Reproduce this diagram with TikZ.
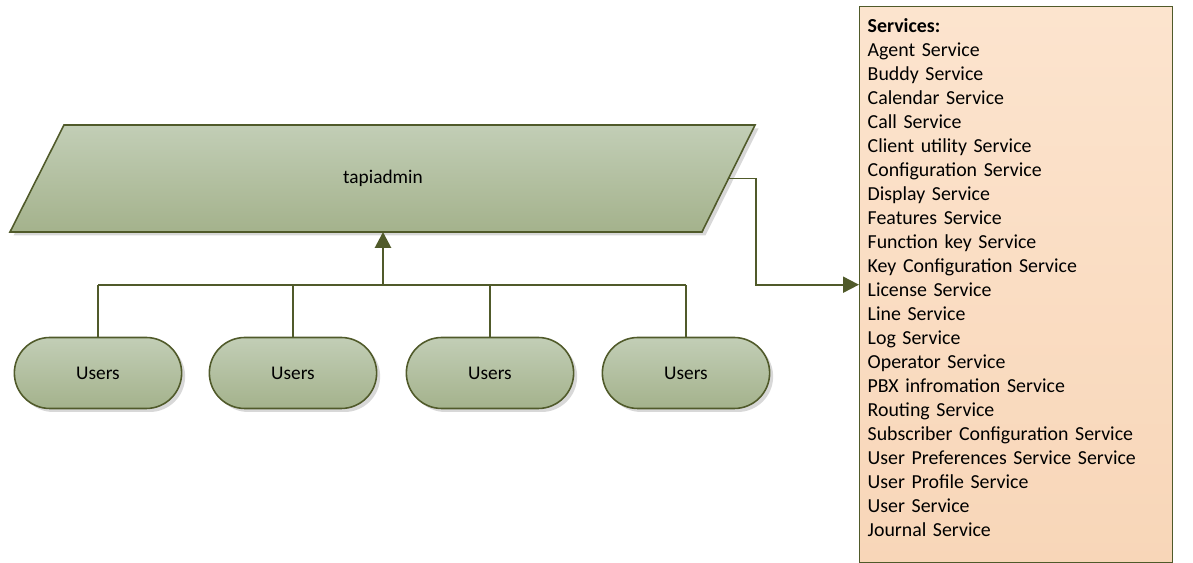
\documentclass[tikz,border=0pt]{standalone}
\usepackage{fontspec}
\setmainfont{Carlito}
\usepackage{tikz}
\usetikzlibrary{positioning}
\usetikzlibrary{arrows.meta}
\usetikzlibrary{shapes.misc,shadows}

\definecolor{olive}{RGB}{80,90,42}
\definecolor{sagetop}{RGB}{194,206,182}
\definecolor{sagebot}{RGB}{164,178,140}
\definecolor{peachtop}{RGB}{252,228,206}
\definecolor{peachbot}{RGB}{248,214,184}

\tikzset{
  sagebox/.style={top color=sagetop, bottom color=sagebot, draw=olive, line width=0.9pt,
    drop shadow={shadow xshift=0.07cm, shadow yshift=-0.07cm, fill=black!30}},
  userpill/.style={sagebox, rounded rectangle, minimum width=3.58cm, minimum height=1.42cm,
    font=\fontsize{11}{13}\selectfont},
  link/.style={draw=olive, line width=1.1pt},
  tip/.style={-{Triangle[length=0.32cm,width=0.32cm]}},
}

\begin{document}
\begin{tikzpicture}
  \useasboundingbox (0,0) rectangle (23.86,11.26);

  % the admin block (slanted)
  \shade[sagebox] (0.2,6.62) -- (14.04,6.62) -- (15.1,8.76) -- (1.28,8.76) -- cycle;
  \node[font=\fontsize{11}{13}\selectfont] (tapi) at (7.66,7.69) {tapiadmin};
  \coordinate (tapiS) at (7.66,6.62);
  \coordinate (tapiE) at (14.57,7.69);

  % users
  \node[userpill] (u1) at (1.96,3.8) {Users};
  \node[userpill] (u2) at (5.86,3.8) {Users};
  \node[userpill] (u3) at (9.80,3.8) {Users};
  \node[userpill] (u4) at (13.72,3.8) {Users};

  % services list
  \node[draw=olive, top color=peachtop, bottom color=peachbot, line width=0.8pt,
        minimum height=11.12cm, text width=5.94cm, inner sep=0.16cm, align=left,
        anchor=north west, font=\fontsize{11.3}{13.66}\selectfont] (services) at (17.18,11.14)
  {\textbf{Services:}\\
   Agent Service\\
   Buddy Service\\
   Calendar Service\\
   Call Service\\
   Client utility Service\\
   Configuration Service\\
   Display Service\\
   Features Service\\
   Function key Service\\
   Key Configuration Service\\
   License Service\\
   Line Service\\
   Log Service\\
   Operator Service\\
   PBX infromation Service\\
   Routing Service\\
   Subscriber Configuration Service\\
   User Preferences Service Service\\
   User Profile Service\\
   User Service\\
   Journal Service\rule[-0.3cm]{0pt}{0pt}};

  \coordinate (bus) at (0,5.56);
  \coordinate (bend) at (15.12,0);

  % connectors
  \foreach \i in {1,...,4}
    \draw[link] (u\i.north) -- (u\i.north |- bus);
  \draw[link] (u1.north |- bus) -- (u4.north |- bus);
  \draw[link,line width=1.6pt,tip] (tapiS |- bus) -- (tapiS);
  \draw[link,tip] (tapiE) -- (tapiE -| bend) |- (services.west);
\end{tikzpicture}
\end{document}
